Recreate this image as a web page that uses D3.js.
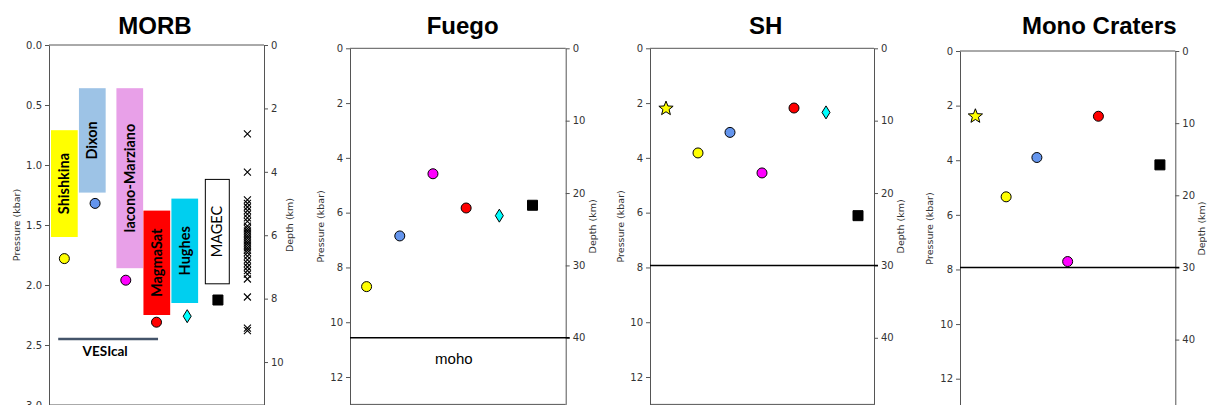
<!DOCTYPE html>
<html>
<head>
<meta charset="utf-8">
<script src="https://cdn.jsdelivr.net/npm/d3@7"></script>
<style>
  body { margin: 0; background: #fff; }
  svg { display: block; }
  .tick text { font-family: "DejaVu Sans", sans-serif; font-size: 10px; fill: #333; }
  .tick line { stroke: #555; }
  .domain { stroke: #555; }
</style>
</head>
<body>
<div class="board"></div>
<script>
// model colours / marker shapes, in plotting order
var models = ['Shishkina', 'Dixon', 'Iacono-Marziano', 'MagmaSat', 'Hughes', 'MAGEC'];
var modelColors = ['#ffff00', '#6495ed', '#ff00ff', '#ff0000', '#00ffff', '#000000'];
var modelShapes = ['circle', 'circle', 'circle', 'circle', 'diamond', 'square'];

// MORB panel: saturation pressure ranges (kbar) of each model's calibration
var morbBarLo = [0.71, 0.36, 0.36, 1.38, 1.28, 1.12];
var morbBarHi = [1.60, 1.23, 1.86, 2.25, 2.15, 1.99];
var morbBarX = [0, 0.91, 2.13, 3.01, 3.92, 4.98];
var morbBarW = [0.87, 0.87, 0.87, 0.87, 0.87, 0.78];
var morbBarFill = ['#ffff00', '#9dc3e6', '#e8a0e8', '#ff0000', '#00cfef', '#ffffff'];
var morbP = [1.78, 1.32, 1.96, 2.31, 2.26, 2.125];
// MAGEC individual samples (x marks)
var morbMagecP = [0.74, 1.06, 1.29, 1.32, 1.35, 1.38, 1.41, 1.44, 1.47,
  1.51, 1.53, 1.55, 1.57, 1.59, 1.61, 1.63, 1.65, 1.67, 1.69, 1.71, 1.73, 1.76,
  1.79, 1.82, 1.85, 1.88, 1.91, 1.95, 2.10, 2.36, 2.38];
var vesicalP = 2.45;
var vesicalX = [-0.2, 3.05];

// other volcanoes: null = not plotted
var fuegoStar = null;
var fuegoP = [8.70, 6.85, 4.58, 5.83, 6.11, 5.73];
var shStar = 2.2;
var shP = [3.82, 3.07, 4.55, 2.18, 2.34, 6.11];
var monoStar = 2.39;
var monoP = [5.34, 3.90, 7.71, 2.39, null, 4.17];

var kmPerKbar = 3.785;

var morbTicksP = [0, 0.5, 1.0, 1.5, 2.0, 2.5, 3.0];
var morbTicksD = [0, 2, 4, 6, 8, 10];
var volcTicksP = [0, 2, 4, 6, 8, 10, 12];
var volcTicksD = [0, 10, 20, 30, 40];

var svg = d3.select('.board').append('svg').attr('width', 1207).attr('height', 405);

function starPath(ro, ri) {
  var pts = [];
  for (var i = 0; i < 10; i++) {
    var a = -Math.PI / 2 + i * Math.PI / 5;
    var r = i % 2 === 0 ? ro : ri;
    pts.push([r * Math.cos(a), r * Math.sin(a)]);
  }
  return 'M' + pts.map(function(p) { return p[0].toFixed(2) + ',' + p[1].toFixed(2); }).join('L') + 'Z';
}

var shapePaths = {
  circle: d3.symbol(d3.symbolCircle, Math.PI * 25)(),
  square: 'M-5,-5H5V5H-5Z',
  diamond: 'M0,-6.5L4,0L0,6.5L-4,0Z',
  star: starPath(7.5, 3.2),
  cross: 'M-3.5,-3.5L3.5,3.5M-3.5,3.5L3.5,-3.5'
};

function panel(opt) {
  var x = d3.scaleLinear().domain(opt.xDomain).range([opt.left, opt.right]);
  var y = d3.scaleLinear().domain(opt.pDomain).range([opt.top, opt.bottom]);
  var yd = d3.scaleLinear().domain([opt.pDomain[0] * kmPerKbar, opt.pDomain[1] * kmPerKbar]).range([opt.top, opt.bottom]);
  var g = svg.append('g');

  g.append('text').attr('x', opt.titleX).attr('y', 33.5)
    .attr('text-anchor', 'middle')
    .style('font-family', '"Liberation Sans", Arial, sans-serif')
    .style('font-weight', 'bold').style('font-size', '24px')
    .text(opt.title);

  // frame
  g.append('line').attr('x1', opt.left).attr('x2', opt.right).attr('y1', opt.top).attr('y2', opt.top)
    .attr('stroke', '#555');
  g.append('line').attr('x1', opt.left).attr('x2', opt.right).attr('y1', opt.bottom).attr('y2', opt.bottom)
    .attr('stroke', '#555');

  g.append('g').attr('transform', 'translate(' + opt.left + ',0)')
    .call(d3.axisLeft(y).tickValues(opt.ticksP).tickFormat(opt.fmt).tickSize(4).tickPadding(3).tickSizeOuter(0));
  g.append('g').attr('transform', 'translate(' + opt.right + ',0)')
    .call(d3.axisRight(yd).tickValues(opt.ticksD).tickFormat(d3.format('d')).tickSize(4).tickPadding(3).tickSizeOuter(0));

  var cy = (opt.top + opt.bottom) / 2;
  g.append('text').attr('transform', 'translate(' + opt.pLabelX + ',' + cy + ') rotate(-90)')
    .attr('text-anchor', 'middle')
    .style('font-family', '"DejaVu Sans", sans-serif').style('font-size', '9.5px').style('fill', '#333')
    .text('Pressure (kbar)');
  g.append('text').attr('transform', 'translate(' + opt.dLabelX + ',' + cy + ') rotate(-90)')
    .attr('text-anchor', 'middle')
    .style('font-family', '"DejaVu Sans", sans-serif').style('font-size', '9.5px').style('fill', '#333')
    .text('Depth (km)');

  if (opt.mohoKm != null) {
    g.append('line').attr('x1', opt.left).attr('x2', opt.right + 4)
      .attr('y1', yd(opt.mohoKm)).attr('y2', yd(opt.mohoKm))
      .attr('stroke', '#000').attr('stroke-width', 1.5);
  }
  if (opt.mohoLabel) {
    g.append('text').attr('x', (opt.left + opt.right) / 2 - 4).attr('y', yd(opt.mohoKm) + 26)
      .attr('text-anchor', 'middle')
      .style('font-family', '"Liberation Sans", Arial, sans-serif').style('font-size', '15px')
      .text('moho');
  }

  var pts = [];
  if (opt.star != null) pts.push({ i: 0, p: opt.star, shape: 'star', color: '#ffff00' });
  opt.values.forEach(function(v, k) {
    if (v != null) pts.push({ i: k + 1, p: v, shape: modelShapes[k], color: modelColors[k] });
  });
  g.selectAll('.pt').data(pts).enter().append('path')
    .attr('d', function(d) { return shapePaths[d.shape]; })
    .attr('transform', function(d) { return 'translate(' + x(d.i) + ',' + y(d.p) + ')'; })
    .attr('fill', function(d) { return d.color; })
    .attr('stroke', '#000').attr('stroke-width', 1);

  return { g: g, x: x, y: y };
}

// ---- MORB ----
var morb = panel({
  title: 'MORB', titleX: 155,
  left: 49, right: 264, top: 45, bottom: 405,
  xDomain: [-0.5, 6.5], pDomain: [0, 3],
  ticksP: morbTicksP, ticksD: morbTicksD, fmt: d3.format('.1f'),
  pLabelX: 20, dLabelX: 293,
  star: null, values: []
});

var bars = morb.g.selectAll('.bar').data(models).enter().append('g');
bars.append('rect')
  .attr('x', function(d, i) { return morb.x(morbBarX[i] - morbBarW[i] / 2); })
  .attr('width', function(d, i) { return morb.x(morbBarW[i]) - morb.x(0); })
  .attr('y', function(d, i) { return morb.y(morbBarLo[i]); })
  .attr('height', function(d, i) { return morb.y(morbBarHi[i]) - morb.y(morbBarLo[i]); })
  .attr('fill', function(d, i) { return morbBarFill[i]; })
  .attr('stroke', function(d) { return d === 'MAGEC' ? '#000' : 'none'; });
bars.append('text')
  .attr('transform', function(d, i) {
    var cx = morb.x(morbBarX[i]);
    var cy = morb.y((morbBarLo[i] + morbBarHi[i]) / 2);
    return 'translate(' + (cx + 5) + ',' + cy + ') rotate(-90)';
  })
  .attr('text-anchor', 'middle')
  .style('font-family', 'Lato, "Open Sans", sans-serif')
  .style('font-weight', function(d) { return d === 'MAGEC' ? 'normal' : 'bold'; })
  .style('font-size', '14.5px')
  .text(function(d) { return d; });

morb.g.selectAll('.mp').data(morbP).enter().append('path')
  .attr('d', function(d, i) { return shapePaths[modelShapes[i]]; })
  .attr('transform', function(d, i) { return 'translate(' + morb.x(i) + ',' + morb.y(d) + ')'; })
  .attr('fill', function(d, i) { return modelColors[i]; })
  .attr('stroke', '#000').attr('stroke-width', 1);

morb.g.selectAll('.mx').data(morbMagecP).enter().append('path')
  .attr('d', shapePaths.cross)
  .attr('transform', function(d) { return 'translate(' + morb.x(5.96) + ',' + morb.y(d) + ')'; })
  .attr('fill', 'none').attr('stroke', '#000').attr('stroke-width', 1.1);

morb.g.append('line')
  .attr('x1', morb.x(vesicalX[0])).attr('x2', morb.x(vesicalX[1]))
  .attr('y1', morb.y(vesicalP)).attr('y2', morb.y(vesicalP))
  .attr('stroke', '#44546a').attr('stroke-width', 2.5);
morb.g.append('text')
  .attr('x', (morb.x(vesicalX[0]) + morb.x(vesicalX[1])) / 2 - 3)
  .attr('y', morb.y(vesicalP) + 17)
  .attr('text-anchor', 'middle')
  .style('font-family', 'Lato, "Open Sans", sans-serif').style('font-weight', 'bold').style('font-size', '13.5px')
  .text('VESIcal');

// ---- volcanoes ----
panel({
  title: 'Fuego', titleX: 462.7,
  left: 350, right: 565.7, top: 48.3, bottom: 404.4,
  xDomain: [0.5, 7], pDomain: [0, 13],
  ticksP: volcTicksP, ticksD: volcTicksD, fmt: d3.format('d'),
  pLabelX: 323.5, dLabelX: 595.5,
  mohoKm: 40, mohoLabel: true,
  star: fuegoStar, values: fuegoP
});

panel({
  title: 'SH', titleX: 765.7,
  left: 650, right: 874, top: 48.3, bottom: 404.4,
  xDomain: [-0.5, 6.5], pDomain: [0, 13],
  ticksP: volcTicksP, ticksD: volcTicksD, fmt: d3.format('d'),
  pLabelX: 623.5, dLabelX: 903.5,
  mohoKm: 30,
  star: shStar, values: shP
});

panel({
  title: 'Mono Craters', titleX: 1099.3,
  left: 960, right: 1175.3, top: 51, bottom: 406,
  xDomain: [-0.5, 6.5], pDomain: [0, 13],
  ticksP: volcTicksP, ticksD: volcTicksD, fmt: d3.format('d'),
  pLabelX: 933, dLabelX: 1204.5,
  mohoKm: 30,
  star: monoStar, values: monoP
});
</script>
</body>
</html>
